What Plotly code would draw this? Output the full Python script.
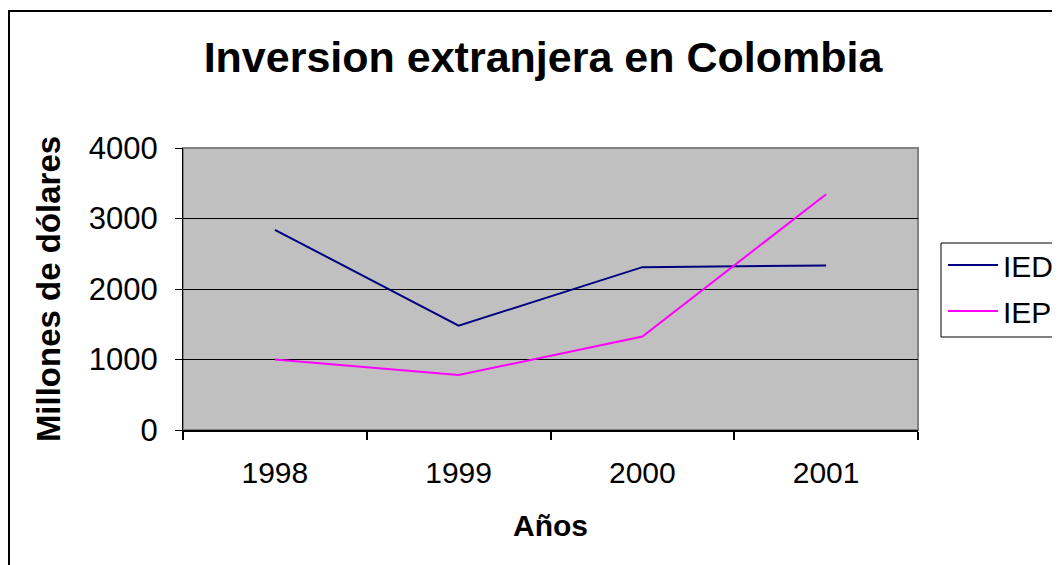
import plotly.graph_objects as go

years = ["1998", "1999", "2000", "2001"]
ied = [2840, 1480, 2310, 2335]
iep = [1000, 780, 1325, 3345]
y_ticks = [0, 1000, 2000, 3000, 4000]

FONT = "Arial, 'Liberation Sans', sans-serif"

# page body has an 8px margin; positions below are in screenshot pixels
OFF = 8
W, H = 1060, 565
X0, X1, Y0, Y1 = 183, 918, 148, 430  # plot area in screenshot pixels
L, T = X0 - OFF, Y0 - OFF
R = W - (X1 - OFF)
B = H - (Y1 - OFF)
pw, ph = X1 - X0, Y1 - Y0

def px(x):
    return (x - X0) / pw

def py(y):
    return (Y1 - y) / ph

fig = go.Figure()
fig.add_trace(go.Scatter(x=years, y=ied, mode="lines", name="IED", legendgroup="a",
                         line=dict(color="#000080", width=2)))
fig.add_trace(go.Scatter(x=years, y=iep, mode="lines", name="IEP", legendgroup="b",
                         line=dict(color="#FF00FF", width=2)))

fig.update_layout(
    width=W, height=H,
    margin=dict(l=L, r=R, t=T, b=B, autoexpand=False),
    paper_bgcolor="white",
    plot_bgcolor="#C0C0C0",
    font=dict(family=FONT, color="black", size=30),
    title=dict(text="<b>Inversion extranjera en Colombia</b>",
               font=dict(size=43, family=FONT, color="black"),
               x=px(543), xref="paper", xanchor="center",
               y=1 - (57 - OFF) / H, yref="container", yanchor="middle"),
    showlegend=True,
    legend=dict(x=px(943), y=py(239), xanchor="left", yanchor="top",
                bgcolor="rgba(0,0,0,0)", borderwidth=0, itemwidth=50,
                font=dict(size=30, family=FONT), tracegroupgap=4),
    xaxis=dict(type="category", range=[-0.5, 3.5], showgrid=False,
               showline=True, linecolor="black", linewidth=2,
               ticks="outside", tickson="boundaries", ticklen=8, tickwidth=2,
               tickcolor="black", ticklabelstandoff=15,
               tickfont=dict(size=30, family=FONT),
               title=dict(text="<b>Años</b>", font=dict(size=30, family=FONT), standoff=27),
               automargin=False, zeroline=False),
    yaxis=dict(range=[0, 4000], tickvals=y_ticks, showgrid=True, gridcolor="black",
               gridwidth=1, showline=True, linecolor="black", linewidth=1,
               ticks="outside", ticklen=7, tickwidth=1, tickcolor="black",
               ticklabelstandoff=11, tickfont=dict(size=31, family=FONT),
               title=dict(text="<b>Millones de dólares</b>", font=dict(size=33, family=FONT), standoff=18),
               automargin=False, zeroline=False),
    shapes=[
        dict(type="rect", xref="paper", yref="paper", x0=0, x1=1, y0=0, y1=1,
             line=dict(color="#808080", width=2), layer="below"),
        dict(type="rect", xref="paper", yref="paper", x0=px(9), x1=px(1090),
             y0=py(600), y1=py(11), line=dict(color="black", width=2)),
        dict(type="rect", xref="paper", yref="paper", x0=px(941), x1=px(1090),
             y0=py(337), y1=py(243), line=dict(color="black", width=1)),
    ],
)

fig.write_html("out.html")
